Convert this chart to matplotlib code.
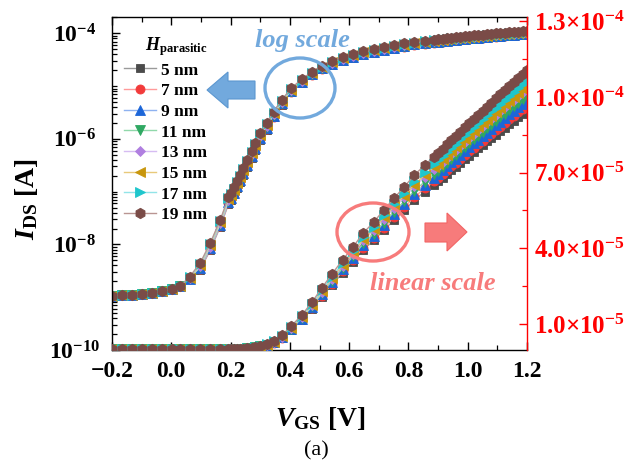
import matplotlib
matplotlib.use("Agg")
import matplotlib.pyplot as plt
from matplotlib.patches import Ellipse, Polygon
from matplotlib.ticker import FixedLocator, FixedFormatter, MultipleLocator, LogLocator, NullFormatter

plt.rcParams['font.family'] = ['Liberation Serif', 'DejaVu Serif']
plt.rcParams['font.weight'] = 'bold'
plt.rcParams['mathtext.fontset'] = 'custom'
plt.rcParams['mathtext.rm'] = 'Liberation Serif:bold'
plt.rcParams['mathtext.bf'] = 'Liberation Serif:bold'
plt.rcParams['mathtext.it'] = 'Liberation Serif:italic:bold'
plt.rcParams['axes.unicode_minus'] = True

# ---------------- data: transfer curves, current in uA ----------------
vgs = [-0.200, -0.166, -0.132, -0.098, -0.064, -0.030, 0.004, 0.030,
       0.062, 0.097, 0.131, 0.165, 0.193, 0.203, 0.213, 0.223, 0.233, 0.243,
       0.255, 0.272, 0.283, 0.300, 0.322, 0.345, 0.373, 0.404,
       0.441, 0.475, 0.508, 0.542, 0.578, 0.613, 0.648, 0.683, 0.717, 0.752,
       0.786, 0.820, 0.855, 0.885,
       0.900, 0.915, 0.930, 0.945, 0.960, 0.975, 0.990, 1.005, 1.020, 1.035,
       1.050, 1.065, 1.080, 1.095, 1.110, 1.125, 1.140, 1.155, 1.170, 1.185, 1.200]

ids_5nm = [0.00107, 0.00110, 0.00112, 0.00115, 0.00120, 0.00129, 0.00141, 0.00162,
           0.00221, 0.00326, 0.00777, 0.0215, 0.0585, 0.0703, 0.0888, 0.117, 0.155, 0.207,
           0.296, 0.444, 0.614, 0.955, 1.48, 2.57, 4.48, 7.64,
           11.64, 16.01, 20.80, 25.51, 30.30, 34.67, 39.46, 43.14, 47.25, 51.27,
           55.13, 59.06, 62.49, 65.23,
           66.60, 68.05, 69.51, 70.96, 72.42, 73.87, 75.33, 76.78, 78.24, 79.61,
           80.98, 82.35, 83.72, 85.09, 86.46, 87.83, 89.20, 90.56, 91.93, 93.30, 94.67]
ids_7nm = [0.00107, 0.00110, 0.00112, 0.00115, 0.00120, 0.00129, 0.00141, 0.00162,
           0.00223, 0.00339, 0.00809, 0.0223, 0.0608, 0.0732, 0.0924, 0.122, 0.162, 0.216,
           0.308, 0.462, 0.639, 0.993, 1.54, 2.64, 4.59, 7.83,
           11.89, 16.34, 21.24, 26.05, 30.94, 35.40, 40.29, 44.05, 48.24, 52.35,
           56.29, 60.31, 63.80, 66.60,
           68.00, 69.48, 70.97, 72.45, 73.94, 75.43, 76.91, 78.40, 79.88, 81.28,
           82.68, 84.08, 85.48, 86.88, 88.27, 89.67, 91.07, 92.47, 93.87, 95.27, 96.66]
ids_9nm = [0.00107, 0.00110, 0.00112, 0.00115, 0.00120, 0.00129, 0.00141, 0.00162,
           0.00225, 0.00352, 0.00840, 0.0232, 0.0632, 0.0760, 0.0960, 0.126, 0.168, 0.224,
           0.320, 0.480, 0.664, 1.03, 1.60, 2.74, 4.73, 8.01,
           12.14, 16.70, 21.70, 26.61, 31.61, 36.17, 41.17, 45.01, 49.29, 53.49,
           57.51, 61.62, 65.19, 68.05,
           69.48, 70.99, 72.51, 74.03, 75.55, 77.07, 78.58, 80.10, 81.62, 83.05,
           84.48, 85.91, 87.34, 88.76, 90.19, 91.62, 93.05, 94.48, 95.91, 97.34, 98.77]
ids_11nm = [0.00107, 0.00110, 0.00112, 0.00115, 0.00120, 0.00129, 0.00141, 0.00162,
            0.00229, 0.00370, 0.00882, 0.0244, 0.0664, 0.0798, 0.101, 0.133, 0.176, 0.235,
            0.336, 0.504, 0.697, 1.08, 1.68, 2.84, 4.84, 8.19,
            12.38, 17.02, 22.11, 27.12, 32.21, 36.86, 41.95, 45.86, 50.23, 54.51,
            58.60, 62.79, 66.43, 69.34,
            70.80, 72.35, 73.89, 75.44, 76.99, 78.53, 80.08, 81.63, 83.17, 84.63,
            86.09, 87.54, 89.00, 90.45, 91.91, 93.37, 94.82, 96.28, 97.73, 99.19, 100.65]
ids_13nm = [0.00107, 0.00110, 0.00112, 0.00115, 0.00120, 0.00129, 0.00141, 0.00162,
            0.00233, 0.00383, 0.00914, 0.0252, 0.0687, 0.0827, 0.104, 0.137, 0.183, 0.244,
            0.348, 0.522, 0.722, 1.12, 1.74, 2.94, 5.01, 8.42,
            12.72, 17.48, 22.72, 27.86, 33.10, 37.87, 43.10, 47.12, 51.61, 56.01,
            60.21, 64.52, 68.26, 71.25,
            72.74, 74.33, 75.92, 77.51, 79.10, 80.69, 82.28, 83.87, 85.46, 86.96,
            88.45, 89.95, 91.44, 92.94, 94.44, 95.93, 97.43, 98.92, 100.42, 101.92, 103.41]
ids_15nm = [0.00107, 0.00110, 0.00112, 0.00115, 0.00120, 0.00129, 0.00141, 0.00162,
            0.00236, 0.00400, 0.00956, 0.0264, 0.0719, 0.0865, 0.109, 0.144, 0.191, 0.255,
            0.364, 0.546, 0.755, 1.17, 1.82, 3.04, 5.12, 8.55,
            12.87, 17.69, 22.99, 28.19, 33.49, 38.31, 43.61, 47.68, 52.22, 56.67,
            60.92, 65.27, 69.06, 72.09,
            73.60, 75.21, 76.82, 78.42, 80.03, 81.64, 83.25, 84.86, 86.46, 87.98,
            89.49, 91.01, 92.52, 94.03, 95.55, 97.06, 98.57, 100.09, 101.60, 103.11, 104.63]
ids_17nm = [0.00107, 0.00110, 0.00112, 0.00115, 0.00120, 0.00129, 0.00141, 0.00162,
            0.00240, 0.00418, 0.00998, 0.0276, 0.0751, 0.0903, 0.114, 0.150, 0.200, 0.266,
            0.380, 0.570, 0.789, 1.23, 1.90, 3.15, 5.27, 8.75,
            13.11, 18.03, 23.43, 28.73, 34.13, 39.04, 44.44, 48.59, 53.21, 57.74,
            62.08, 66.52, 70.37, 73.46,
            75.00, 76.64, 78.28, 79.92, 81.55, 83.19, 84.83, 86.47, 88.11, 89.65,
            91.19, 92.74, 94.28, 95.82, 97.36, 98.91, 100.45, 101.99, 103.53, 105.08, 106.62]
ids_19nm = [0.00107, 0.00110, 0.00112, 0.00115, 0.00120, 0.00129, 0.00141, 0.00162,
            0.00245, 0.0044, 0.0105, 0.029, 0.079, 0.095, 0.120, 0.158, 0.210, 0.280,
            0.400, 0.600, 0.830, 1.29, 2.00, 3.30, 5.50, 9.10,
            13.6, 18.7, 24.3, 29.8, 35.4, 40.5, 46.1, 50.4, 55.2, 59.9,
            64.4, 69.0, 73.0, 76.2,
            77.8, 79.5, 81.2, 82.9, 84.6, 86.3, 88.0, 89.7, 91.4, 93.0,
            94.6, 96.2, 97.8, 99.4, 101.0, 102.6, 104.2, 105.8, 107.4, 109.0, 110.6]

series_labels = ['5 nm', '7 nm', '9 nm', '11 nm', '13 nm', '15 nm', '17 nm', '19 nm']
series_values = [ids_5nm, ids_7nm, ids_9nm, ids_11nm, ids_13nm, ids_15nm, ids_17nm, ids_19nm]

x_ticks = [-0.2, 0.0, 0.2, 0.4, 0.6, 0.8, 1.0, 1.2]
log_ticks = [1e-10, 1e-8, 1e-6, 1e-4]
log_tick_labels = [r'$10^{-10}$', r'$10^{-8}$', r'$10^{-6}$', r'$10^{-4}$']
lin_ticks = [1.0e-5, 4.0e-5, 7.0e-5, 1.0e-4, 1.3e-4]
lin_tick_labels = ['1.0\u00d710$^{-5}$', '4.0\u00d710$^{-5}$', '7.0\u00d710$^{-5}$',
                   '1.0\u00d710$^{-4}$', '1.3\u00d710$^{-4}$']

# ---------------- styles ----------------
marker_colors = ['#4b4b4b', '#f23a3a', '#1c66d8', '#2fa862', '#b07fe0', '#c8960c', '#1ec6cc', '#7a4b47']
line_colors = ['#9a9a9a', '#ff9a9a', '#8eb2f0', '#90d8aa', '#d6bcf2', '#e8c97a', '#92e4e8', '#b99592']
markers = ['s', 'o', '^', 'v', 'D', '<', '>', 'h']
msizes = [6.0, 6.5, 6.5, 6.5, 5.5, 6.5, 6.5, 7.5]

W, H = 639, 466
fig = plt.figure(figsize=(W / 100, H / 100), dpi=100)
ax = fig.add_axes([112 / W, 1 - 350 / H, 415 / W, 333 / H])
ax2 = ax.twinx()


def fxy(px, py):
    return (px / W, 1 - py / H)


handles = []
for target in (ax, ax2):
    for lab, vals, mc, lc, mk, ms in zip(series_labels, series_values, marker_colors,
                                         line_colors, markers, msizes):
        amps = [v * 1e-6 for v in vals]
        h, = target.plot(vgs, amps, color=lc, lw=1.0, marker=mk, ms=ms,
                         mfc=mc, mec=mc, mew=0.6, label=lab)
        if target is ax2:
            handles.append(h)

# left (log) axis
ax.set_yscale('log')
ax.set_xlim(-0.2, 1.2)
ax.set_ylim(1e-10, 2.04e-4)
ax.xaxis.set_major_locator(FixedLocator(x_ticks))
ax.xaxis.set_major_formatter(FixedFormatter([f'{t:.1f}'.replace('-', '\u2212') for t in x_ticks]))
ax.xaxis.set_minor_locator(MultipleLocator(0.1))
ax.yaxis.set_major_locator(FixedLocator(log_ticks))
ax.yaxis.set_major_formatter(FixedFormatter(log_tick_labels))
ax.yaxis.set_minor_locator(LogLocator(base=10, subs=[1, 2, 3, 4, 5, 6, 7, 8, 9], numticks=40))
ax.yaxis.set_minor_formatter(NullFormatter())
ax.tick_params(axis='both', which='major', direction='in', length=6, width=1.0,
               labelsize=17, top=True)
ax.tick_params(axis='both', which='minor', direction='in', length=3.5, width=0.9, top=True)
ax.tick_params(axis='x', which='major', pad=8)
ax.tick_params(axis='y', which='major', pad=27)
for t in ax.yaxis.get_major_ticks():
    t.label1.set_horizontalalignment('center')
ax.spines['right'].set_visible(False)
for s in ('left', 'top', 'bottom'):
    ax.spines[s].set_linewidth(1.0)

# right (linear) axis
ax2.set_ylim(-3.1e-7, 1.317e-4)
ax2.yaxis.set_major_locator(FixedLocator(lin_ticks))
ax2.yaxis.set_major_formatter(FixedFormatter(lin_tick_labels))
ax2.yaxis.set_minor_locator(FixedLocator([2.5e-5, 5.5e-5, 8.5e-5, 1.15e-4]))
ax2.tick_params(axis='y', which='major', direction='in', length=6, width=1.0,
                labelsize=18, colors='red', pad=5)
ax2.tick_params(axis='y', which='minor', direction='in', length=3.5, width=0.9, colors='red')
ax2.spines['right'].set_color('red')
ax2.spines['right'].set_linewidth(1.0)
for s in ('left', 'top', 'bottom'):
    ax2.spines[s].set_visible(False)

# legend
leg = ax2.legend(handles=handles, title=r'$\mathit{H}_{\mathrm{parasitic}}$',
                 loc='upper left', bbox_to_anchor=fxy(124, 35), bbox_transform=fig.transFigure,
                 frameon=False, borderpad=0, borderaxespad=0, handlelength=1.85,
                 handletextpad=0.3, labelspacing=0.26,
                 prop={'family': 'Liberation Serif', 'weight': 'bold', 'size': 12.5},
                 title_fontsize=13, alignment='right')

# axis titles
fig.text(*fxy(26, 199), r'$\mathit{I}_{\mathrm{DS}}$ [A]', rotation=90, ha='center',
         va='center', fontsize=20, fontweight='bold')
fig.text(*fxy(320, 418), r'$\mathit{V}_{\mathrm{GS}}$ [V]', ha='center', va='center',
         fontsize=20, fontweight='bold')
fig.text(*fxy(316, 451), '(a)', ha='center', va='center', fontsize=16, fontweight='normal')

# annotations
blue = '#72a9dd'
red = '#f77b7b'
fig.add_artist(Ellipse(fxy(300, 88), 70 / W, 60 / H, transform=fig.transFigure,
                       fill=False, edgecolor=blue, lw=2.4, zorder=5))
fig.add_artist(Ellipse(fxy(373, 232), 72 / W, 58 / H, transform=fig.transFigure,
                       fill=False, edgecolor=red, lw=2.4, zorder=5))
blue_arrow = [fxy(207, 90), fxy(228, 72), fxy(228, 81), fxy(255, 81),
              fxy(255, 99), fxy(228, 99), fxy(228, 108)]
fig.add_artist(Polygon(blue_arrow, closed=True, transform=fig.transFigure,
                       facecolor=blue, edgecolor='#5c97d0', lw=0.8, zorder=5))
red_arrow = [fxy(467, 232), fxy(447, 213), fxy(447, 223), fxy(425, 223),
             fxy(425, 242), fxy(447, 242), fxy(447, 251)]
fig.add_artist(Polygon(red_arrow, closed=True, transform=fig.transFigure,
                       facecolor=red, edgecolor='#f26464', lw=0.8, zorder=5))
fig.text(*fxy(302, 41), 'log scale', ha='center', va='center', fontsize=19,
         fontweight='bold', fontstyle='italic', color=blue)
fig.text(*fxy(433, 283), 'linear scale', ha='center', va='center', fontsize=19,
         fontweight='bold', fontstyle='italic', color=red)

fig.savefig('out.png', dpi=100)
